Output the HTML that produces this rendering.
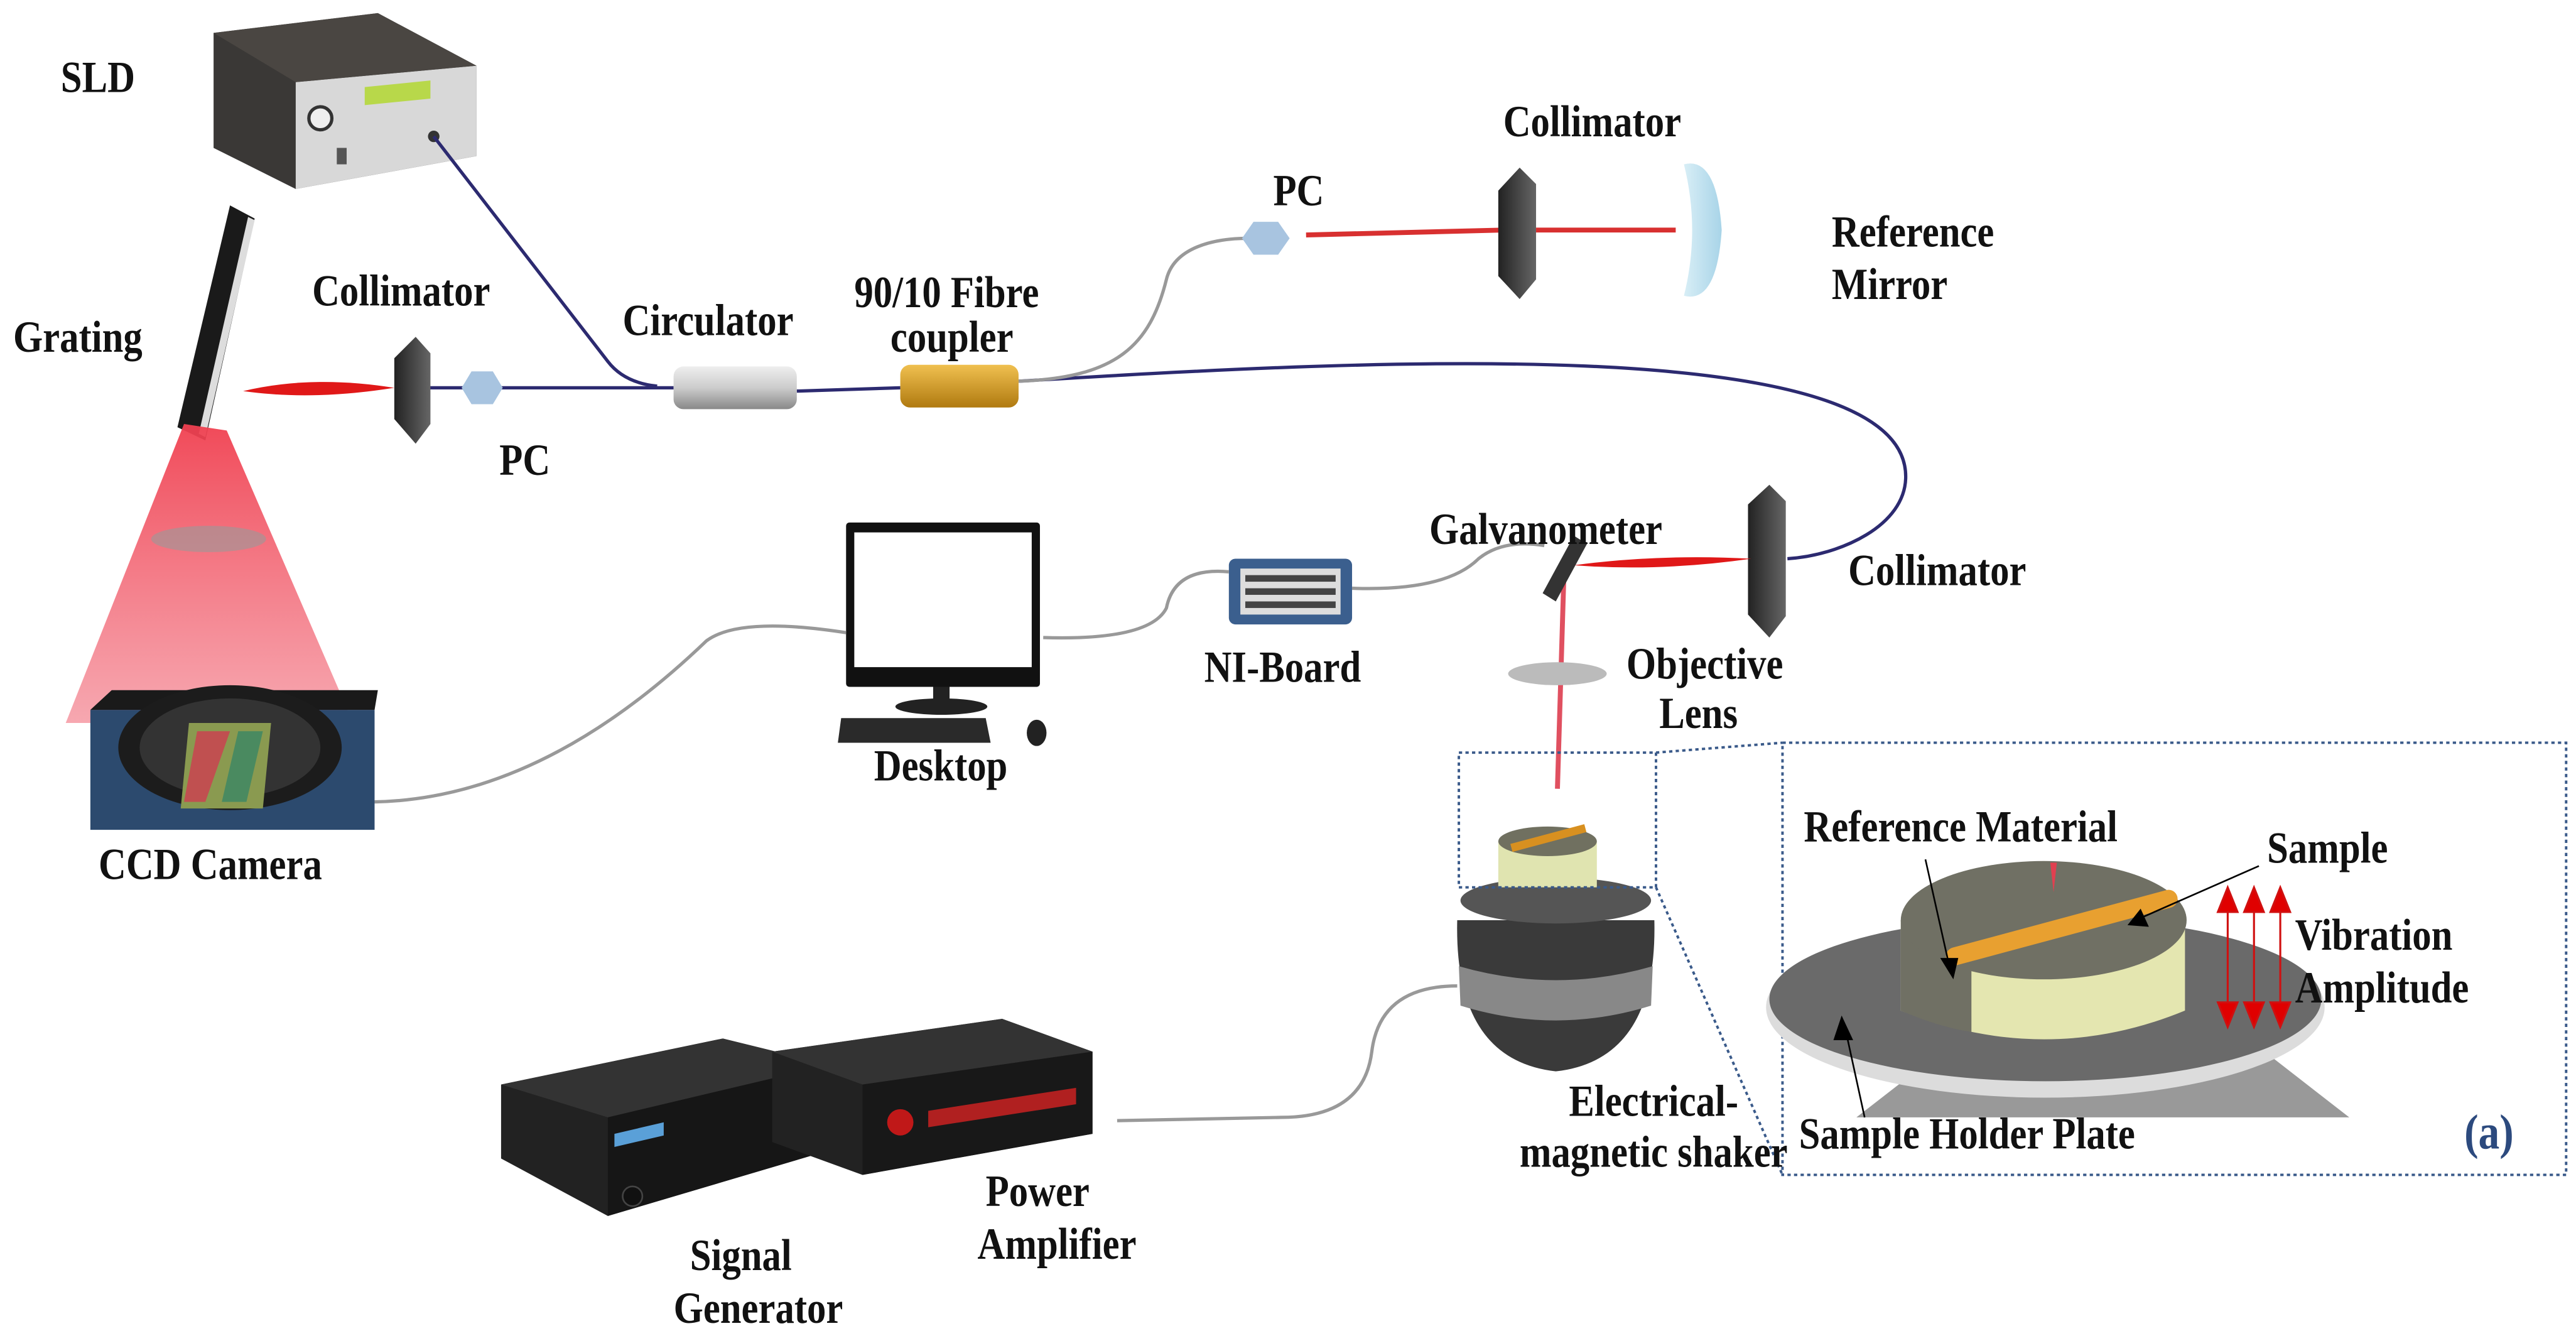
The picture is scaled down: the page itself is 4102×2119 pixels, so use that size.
<!DOCTYPE html>
<html><head><meta charset="utf-8"><style>
html,body{margin:0;padding:0;background:#fff;}
svg{display:block;}
text{font-family:"Liberation Serif",serif;font-weight:bold;font-size:27px;fill:#111;transform-box:fill-box;transform-origin:0 0;transform:scaleX(0.86);}
</style></head><body>
<svg width="4102" height="2119" viewBox="0 0 1568 810" xmlns="http://www.w3.org/2000/svg">
<defs>
<linearGradient id="beam" x1="0" y1="0" x2="0" y2="1"><stop offset="0" stop-color="#f04050" stop-opacity="0.95"/><stop offset="1" stop-color="#f06070" stop-opacity="0.55"/></linearGradient>
<linearGradient id="circ" x1="0" y1="0" x2="0" y2="1"><stop offset="0" stop-color="#eee"/><stop offset="0.5" stop-color="#ccc"/><stop offset="1" stop-color="#888"/></linearGradient>
<linearGradient id="coup" x1="0" y1="0" x2="0" y2="1"><stop offset="0" stop-color="#f0c050"/><stop offset="1" stop-color="#b07a10"/></linearGradient>
<linearGradient id="lens" x1="0" y1="0" x2="1" y2="0"><stop offset="0" stop-color="#222"/><stop offset="1" stop-color="#666"/></linearGradient>
<linearGradient id="mir" x1="0" y1="0" x2="1" y2="0"><stop offset="0" stop-color="#d8eef6"/><stop offset="1" stop-color="#a8d4e8"/></linearGradient>
</defs>

<!-- SLD -->
<polygon points="130,20 230,8 290,40 290,95 180,115 130,90" fill="#3a3836"/>
<polygon points="180,50 290,40 290,95 180,115" fill="#d8d8d8"/>
<polygon points="130,20 230,8 290,40 180,50" fill="#4a4642"/>
<polygon points="222,53 262,49 262,60 222,64" fill="#b8d84a"/>
<circle cx="195" cy="72" r="7" fill="#eee" stroke="#333" stroke-width="2"/>
<rect x="205" y="90" width="6" height="10" fill="#555"/>
<circle cx="264" cy="83" r="3.5" fill="#333"/>

<!-- fibres -->
<g fill="none" stroke="#2c2a70" stroke-width="2">
<path d="M264,83 L370,220 Q380,233 400,235"/>
<path d="M258,236 L410,236"/>
<path d="M485,238 L548,236"/>
<path d="M620,232 C820,220 1160,200 1160,290 C1160,320 1120,338 1088,340"/>
</g>
<path d="M620,232 C680,230 700,210 710,170 C715,150 740,145 760,145" fill="none" stroke="#999" stroke-width="2"/>
<path d="M795,143 L915,140" stroke="#d83030" stroke-width="3"/>
<path d="M935,140 L1020,140" stroke="#d83030" stroke-width="3"/>

<!-- Grating -->
<polygon points="140,125 155,133 125,268 108,260" fill="#1a1a1a"/>
<polygon points="151,132 155,134 125,266 121,264" fill="#ddd"/>
<path d="M148,238 Q190,228 240,236 Q190,244 148,238Z" fill="#e01818"/>
<polygon points="112,258 138,262 215,440 40,440" fill="url(#beam)"/>
<ellipse cx="127" cy="328" rx="35" ry="8" fill="#999" opacity="0.6"/>

<path d="M253,205 L262,215 L262,258 L253,270 L240,255 L240,218Z" fill="url(#lens)"/>
<polygon points="287,226 300,226 306,236 300,246 287,246 281,236" fill="#a8c4e0"/>
<rect x="410" y="223" width="75" height="26" rx="6" fill="url(#circ)"/>
<rect x="548" y="222" width="72" height="26" rx="6" fill="url(#coup)"/>
<polygon points="763,135 778,135 785,145 778,155 763,155 756,145" fill="#a8c4e0"/>
<path d="M925,102 L935,112 L935,170 L925,182 L912,168 L912,116Z" fill="url(#lens)"/>
<path d="M1025,100 Q1045,95 1048,140 Q1045,185 1025,180 Q1035,140 1025,100Z" fill="url(#mir)"/>

<!-- Galvanometer / collimator right -->
<path d="M1077,295 L1087,305 L1087,375 L1077,388 L1064,374 L1064,307Z" fill="url(#lens)"/>
<path d="M958,344 Q1010,337 1066,340 Q1010,348 958,344Z" fill="#e01818"/>
<path d="M952,348 L948,480" stroke="#e05060" stroke-width="3"/>
<polygon points="958,326 966,331 947,366 939,361" fill="#333"/>
<ellipse cx="948" cy="410" rx="30" ry="7" fill="#bbb"/>

<!-- NI board -->
<rect x="748" y="340" width="75" height="40" rx="4" fill="#3b5f8e"/>
<rect x="755" y="346" width="61" height="28" fill="#ddd"/>
<g fill="#444"><rect x="758" y="350" width="55" height="4"/><rect x="758" y="358" width="55" height="4"/><rect x="758" y="366" width="55" height="4"/></g>
<path d="M823,358 Q880,360 900,340 Q915,328 940,332" fill="none" stroke="#999" stroke-width="2"/>
<path d="M635,388 Q700,390 710,370 Q715,345 748,348" fill="none" stroke="#999" stroke-width="2"/>

<!-- Desktop -->
<rect x="515" y="318" width="118" height="100" rx="2" fill="#111"/>
<rect x="520" y="324" width="108" height="82" fill="#fff"/>
<rect x="568" y="418" width="10" height="10" fill="#222"/>
<ellipse cx="573" cy="430" rx="28" ry="5" fill="#222"/>
<polygon points="512,437 600,437 603,452 510,452" fill="#2a2a2a"/>
<ellipse cx="631" cy="446" rx="6" ry="8" fill="#222"/>

<!-- CCD camera -->
<rect x="55" y="432" width="173" height="73" fill="#2c4a6e"/>
<polygon points="55,432 68,420 230,420 228,432" fill="#1a1a1a"/>
<ellipse cx="140" cy="455" rx="68" ry="38" fill="#1c1c1c"/>
<ellipse cx="140" cy="455" rx="55" ry="30" fill="#333"/>
<polygon points="115,440 165,440 160,492 110,492" fill="#8a9a50"/>
<polygon points="120,445 140,445 125,488 112,488" fill="#c05050"/>
<polygon points="145,445 160,445 150,488 135,488" fill="#4a8a60"/>
<path d="M228,488 Q330,486 430,390 Q450,375 515,385" fill="none" stroke="#999" stroke-width="2"/>

<!-- Shaker -->
<path d="M887,560 Q885,645 947,652 Q1009,645 1007,560Z" fill="#3a3a3a"/>
<path d="M888,588 Q947,605 1006,588 L1005,612 Q947,630 889,612Z" fill="#888"/>
<ellipse cx="947" cy="548" rx="58" ry="14" fill="#555"/>
<rect x="912" y="512" width="60" height="28" fill="#e0e4b0"/>
<ellipse cx="942" cy="512" rx="30" ry="9" fill="#707060"/>
<path d="M920,516 L965,504" stroke="#d89020" stroke-width="5"/>
<path d="M887,600 Q840,600 835,640 Q830,680 780,680 L680,682" fill="none" stroke="#999" stroke-width="2"/>

<!-- dotted zoom box -->
<rect x="888" y="458" width="120" height="82" fill="none" stroke="#3a5a8a" stroke-width="1.5" stroke-dasharray="2,2"/>
<path d="M1008,458 L1085,452 M1008,540 L1085,715" stroke="#3a5a8a" stroke-width="1.5" stroke-dasharray="2,2" fill="none"/>
<rect x="1085" y="452" width="477" height="263" fill="none" stroke="#3a5a8a" stroke-width="1.5" stroke-dasharray="2,2"/>

<!-- inset -->
<polygon points="1130,680 1220,610 1340,610 1430,680" fill="#999"/>
<ellipse cx="1245" cy="613" rx="170" ry="55" fill="#dcdcdc"/>
<ellipse cx="1245" cy="608" rx="168" ry="50" fill="#6a6a6a"/>
<path d="M1157,560 L1157,615 Q1245,650 1330,615 L1330,560Z" fill="#e4e6b0"/>
<path d="M1157,560 L1157,615 Q1180,625 1200,628 L1200,565Z" fill="#707064"/>
<ellipse cx="1244" cy="560" rx="87" ry="36" fill="#707064"/>
<path d="M1190,582 L1320,547" stroke="#e8a030" stroke-width="11" stroke-linecap="round"/>
<path d="M1248,525 L1252,525 L1250,543Z" fill="#e04050"/>
<g stroke="#d01010" stroke-width="1.2" fill="#e00000">
<line x1="1356" y1="545" x2="1356" y2="620"/><line x1="1372" y1="545" x2="1372" y2="620"/><line x1="1388" y1="545" x2="1388" y2="620"/>
<polygon points="1350,555 1356,540 1362,555"/><polygon points="1366,555 1372,540 1378,555"/><polygon points="1382,555 1388,540 1394,555"/>
<polygon points="1350,610 1356,625 1362,610"/><polygon points="1366,610 1372,625 1378,610"/><polygon points="1382,610 1388,625 1394,610"/>
</g>
<path d="M1172,523 L1187,590" stroke="#000" stroke-width="1"/><polygon points="1181,583 1192,583 1189,596" fill="#000"/>
<path d="M1375,527 L1300,560" stroke="#000" stroke-width="1"/><polygon points="1295,563 1303,553 1308,564" fill="#000"/>
<path d="M1135,680 L1123,625" stroke="#000" stroke-width="1"/><polygon points="1116,633 1128,633 1121,618" fill="#000"/>

<!-- Signal generator & amplifier -->
<polygon points="305,660 440,632 505,648 505,700 370,740 305,705" fill="#222"/>
<polygon points="305,660 440,632 505,648 370,680" fill="#333"/>
<polygon points="370,680 505,648 505,700 370,740" fill="#161616"/>
<polygon points="374,690 404,683 404,691 374,698" fill="#5aa0d8"/>
<circle cx="385" cy="728" r="6" fill="#111" stroke="#444"/>
<polygon points="470,640 610,620 665,640 665,690 525,715 470,695" fill="#222"/>
<polygon points="470,640 610,620 665,640 525,660" fill="#333"/>
<polygon points="525,660 665,640 665,690 525,715" fill="#181818"/>
<circle cx="548" cy="683" r="8" fill="#c01818"/>
<polygon points="565,676 655,662 655,672 565,686" fill="#b02020"/>

<!-- labels -->
<text x="37" y="56">SLD</text>
<text x="8" y="214">Grating</text>
<text x="190" y="186">Collimator</text>
<text x="304" y="289">PC</text>
<text x="379" y="204">Circulator</text>
<text x="520" y="187">90/10 Fibre</text>
<text x="542" y="214">coupler</text>
<text x="775" y="125">PC</text>
<text x="915" y="83">Collimator</text>
<text x="1115" y="150">Reference</text>
<text x="1115" y="182">Mirror</text>
<text x="870" y="331">Galvanometer</text>
<text x="1125" y="356">Collimator</text>
<text x="990" y="413">Objective</text>
<text x="1010" y="443">Lens</text>
<text x="733" y="415">NI-Board</text>
<text x="532" y="475">Desktop</text>
<text x="60" y="535">CCD Camera</text>
<text x="955" y="679">Electrical-</text>
<text x="925" y="710">magnetic shaker</text>
<text x="1098" y="512">Reference Material</text>
<text x="1380" y="525">Sample</text>
<text x="1397" y="578">Vibration</text>
<text x="1397" y="610">Amplitude</text>
<text x="1095" y="699">Sample Holder Plate</text>
<text x="1500" y="699" style="fill:#2c4a7e;font-size:30px">(a)</text>
<text x="600" y="734">Power</text>
<text x="595" y="766">Amplifier</text>
<text x="420" y="773">Signal</text>
<text x="410" y="805">Generator</text>
</svg>
</body></html>
